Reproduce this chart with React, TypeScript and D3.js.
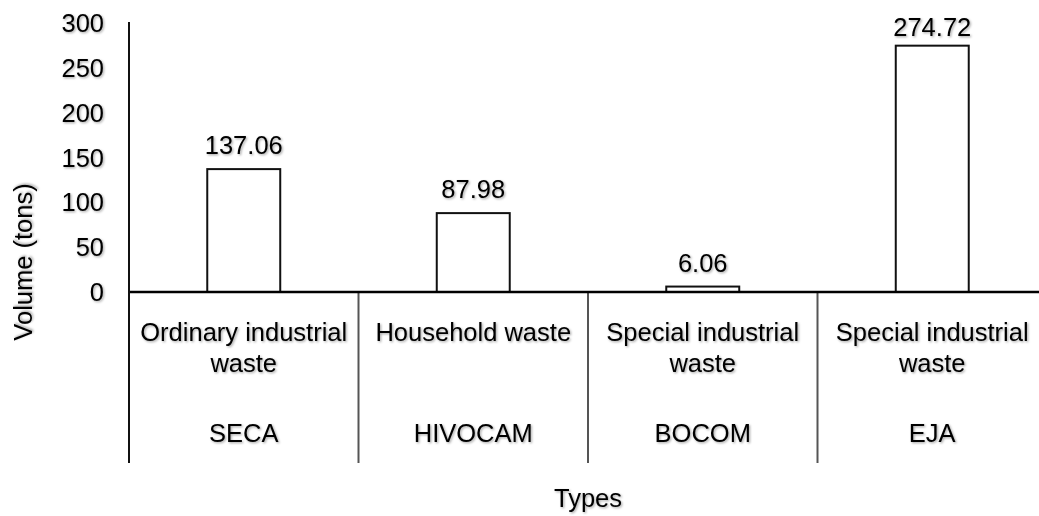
import React from 'react';
import * as d3 from 'd3';

// Chart values
const companies = ['SECA', 'HIVOCAM', 'BOCOM', 'EJA'];
const wasteTypes = [
  ['Ordinary industrial', 'waste'],
  ['Household waste'],
  ['Special industrial', 'waste'],
  ['Special industrial', 'waste'],
];
const volumes = [137.06, 87.98, 6.06, 274.72];
const yTicks = [0, 50, 100, 150, 200, 250, 300];

const W = 1039;
const H = 516;
const FONT = '"Liberation Sans", Arial, sans-serif';
const FS = 25.5;

export default function App() {
  // Layout
  const left = 129;
  const zeroY = 292;
  const bottom = 463;

  const x = d3.scaleBand<string>().domain(companies).range([left, 1047]).padding(0);
  const y = d3.scaleLinear().domain([0, 300]).range([zeroY, 23]);
  const barW = x.bandwidth() * 0.318;

  const txt = { fontFamily: FONT, fontSize: FS, fill: '#000', filter: 'url(#shadow)' } as const;

  return (
    <div style={{ position: 'fixed', left: 0, top: 0, background: '#fff' }}>
      <svg width={W} height={H} style={{ display: 'block' }}>
        <defs>
          <filter id="shadow" x="-10%" y="-20%" width="130%" height="160%">
            <feDropShadow dx="1.2" dy="1.2" stdDeviation="0.9" floodColor="#000" floodOpacity="0.35" />
          </filter>
        </defs>
        <rect width={W} height={H} fill="#fff" />

        {/* y tick labels */}
        {yTicks.map(t => (
          <text key={t} x={104} y={y(t)} textAnchor="end" dominantBaseline="central" {...txt}>
            {t}
          </text>
        ))}

        {/* y axis title */}
        <text
          transform={`translate(23,262) rotate(-90)`}
          textAnchor="middle"
          dominantBaseline="central"
          {...txt}
        >
          Volume (tons)
        </text>

        {/* bars */}
        {companies.map((c, i) => {
          const cx = (x(c) ?? 0) + x.bandwidth() / 2;
          const v = volumes[i];
          return (
            <g key={c}>
              <rect
                x={cx - barW / 2}
                y={y(v)}
                width={barW}
                height={zeroY - y(v)}
                fill="#fff"
                stroke="#111"
                strokeWidth={2}
              />
              <text
                x={cx}
                y={Math.max(y(v) - 24, 27)}
                textAnchor="middle"
                dominantBaseline="central"
                {...txt}
              >
                {v.toFixed(2)}
              </text>
            </g>
          );
        })}

        {/* category separators */}
        {companies.slice(1).map(c => (
          <line key={c} x1={x(c)} x2={x(c)} y1={zeroY} y2={bottom} stroke="#555" strokeWidth={2} />
        ))}

        {/* axes */}
        <line x1={left} x2={W} y1={zeroY} y2={zeroY} stroke="#000" strokeWidth={2.5} />
        <line x1={left} x2={left} y1={22} y2={bottom} stroke="#111" strokeWidth={2} />

        {/* category labels: type and company */}
        {companies.map((c, i) => {
          const cx = (x(c) ?? 0) + x.bandwidth() / 2;
          return (
            <g key={c}>
              {wasteTypes[i].map((line, j) => (
                <text key={j} x={cx} y={332 + j * 31} textAnchor="middle" dominantBaseline="central" {...txt}>
                  {line}
                </text>
              ))}
              <text x={cx} y={433} textAnchor="middle" dominantBaseline="central" {...txt}>
                {c}
              </text>
            </g>
          );
        })}

        {/* x axis title */}
        <text x={588} y={498} textAnchor="middle" dominantBaseline="central" {...txt}>
          Types
        </text>
      </svg>
    </div>
  );
}
